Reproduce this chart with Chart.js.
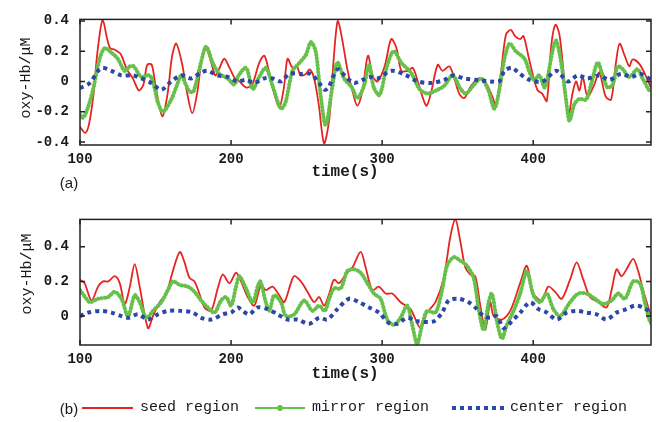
<!DOCTYPE html>
<html>
<head>
<meta charset="utf-8">
<script src="https://cdn.jsdelivr.net/npm/chart.js@4"></script>
<style>
  html,body{margin:0;padding:0;background:#fff;}
  #wrap{position:relative;width:656px;height:422px;overflow:hidden;background:#fff;}
  canvas{position:absolute;left:0;}
  .t{position:absolute;white-space:nowrap;color:#1a1a1a;font-family:'Liberation Mono','DejaVu Sans Mono',monospace;}
  .c{transform:translate(-50%,-50%);}
  .r{transform:translate(-50%,-50%) rotate(-90deg);}
</style>
</head>
<body>
<div id="wrap">
  <canvas id="top" width="656" height="200" style="top:0"></canvas>
  <canvas id="bot" width="656" height="222" style="top:200px"></canvas>
  <div class="t r" style="left:26px;top:78px;font-size:15px;">oxy-Hb/μM</div>
  <div class="t r" style="left:27px;top:274px;font-size:15px;">oxy-Hb/μM</div>
  <div class="t c" style="left:345px;top:172px;font-size:16px;font-weight:bold;">time(s)</div>
  <div class="t c" style="left:345px;top:374px;font-size:16px;font-weight:bold;">time(s)</div>
  <div class="t c" style="left:69px;top:182px;font-size:15px;font-family:'Liberation Sans',Arial,sans-serif;">(a)</div>
  <div class="t c" style="left:69px;top:408px;font-size:15px;font-family:'Liberation Sans',Arial,sans-serif;">(b)</div>
  <div style="position:absolute;left:82px;top:407px;width:51px;height:2px;background:#e52521;"></div>
  <div class="t" style="left:140px;top:399px;font-size:15px;">seed region</div>
  <div style="position:absolute;left:255px;top:407px;width:50px;height:2px;background:#66c04a;"></div>
  <div style="position:absolute;left:277px;top:405px;width:6px;height:6px;border-radius:3px;background:#66c04a;"></div>
  <div class="t" style="left:312px;top:399px;font-size:15px;">mirror region</div>
  <div style="position:absolute;left:452px;top:406px;width:52px;height:4px;background:repeating-linear-gradient(90deg,#2d47a8 0 4px,transparent 4px 8px);"></div>
  <div class="t" style="left:510px;top:399px;font-size:15px;">center region</div>
</div>
<script>
// ---------- data (time in s, oxy-Hb in μM) ----------
const xTicks = [100, 200, 300, 400];
const topYTicks = [-0.4, -0.2, 0, 0.2, 0.4];
const botYTicks = [0, 0.2, 0.4];
const seriesNames = ['seed region', 'mirror region', 'center region'];

// (a) seed region
const topSeedT = [100,103.5,106,109,111.5,115,118,120,123,127,131,135,139,142,144.5,147.5,150,154.5,158,161,163.7,167.5,171,174.3,177.5,181,183.5,187,189.5,192,195.5,199,202,205.5,210,214,218.7,222,225,228.6,232,235,237.4,240.7,243.6,246,249.5,252,255,258,261.6,265,267,269.3,270.8,273.7,277,280.3,283.6,287,290.6,294,297,301.7,306,309.5,312.7,317,320.3,323.6,327,329.5,332.5,336.8,340,344.5,347.8,351,354.4,358.8,364.3,368.7,373,375.3,378.7,382,385.3,388,391.4,393.6,397,400.4,403,406,409,412,414.7,417.4,420.7,423.3,426,428.4,430.6,432.8,436,440.5,443.8,448,451.6,454.8,457.2,460.6,463.6,465.8,470,473.5,477,478];
const topSeedV = [-0.30,-0.34,-0.28,-0.08,0.19,0.41,0.28,0.22,0.21,0.18,0.08,0.02,-0.06,-0.02,0.11,0.11,-0.03,-0.23,-0.08,0.17,0.25,0.12,-0.08,-0.21,-0.08,0.17,0.22,0.12,0.04,0.08,0.15,0.09,0.03,0.0,-0.04,-0.02,0.125,0.17,0.07,-0.08,-0.17,-0.04,0.15,0.09,0.10,0.04,0.05,0.08,0.02,-0.15,-0.41,-0.25,0.02,0.31,0.40,0.27,0.08,-0.06,-0.16,-0.06,0.17,0.03,0.0,0.10,0.28,0.22,0.07,0.07,0.09,0.0,-0.11,-0.16,-0.07,0.11,0.07,0.10,0.02,-0.08,-0.11,-0.03,0.02,-0.01,-0.10,-0.16,0.06,0.31,0.34,0.30,0.28,0.30,0.16,0.02,-0.06,-0.08,-0.13,0.24,0.375,0.31,0.0,-0.23,-0.08,0.0,-0.06,0.03,-0.10,-0.02,0.06,-0.10,-0.12,0.125,0.25,0.17,0.10,0.145,0.12,0.06,-0.02,-0.04];

// (a) mirror region
const topMirrorT = [100,102,105,108.7,113,116.4,120.8,125,129.6,133,135.5,140.6,146,149,151.6,155,160.4,164,167,170,172.5,175,180.2,183.5,188,192.3,197.8,202,205,210,214.3,218.7,223,227.5,233,236,240.7,245,249.5,252.8,256,259.4,262.7,267,270.4,274.8,280,283.6,288,291.3,294.5,298.3,302.7,307.5,313,319,324.7,330,335.6,341,346.7,352,355.5,361,365.5,370,374.3,377.5,381,384.4,388.5,394.3,397.6,400.6,404,407.5,409.6,413,415.2,418.5,421.8,424,427.3,430.6,435,438.3,442.7,446,449.3,452.6,456,459.4,463.6,469,472.4,476.8,478];
const topMirrorV = [-0.22,-0.24,-0.18,-0.05,0.15,0.22,0.19,0.15,0.07,0.10,0.10,0.03,0.04,-0.03,-0.14,-0.20,-0.12,-0.03,0.04,-0.02,-0.065,-0.07,0.13,0.23,0.12,0.05,0.02,-0.02,0.04,0.09,-0.05,0.03,0.09,-0.03,-0.18,-0.14,0.07,0.12,0.175,0.26,0.20,-0.10,-0.29,-0.04,0.125,0.02,-0.04,-0.11,-0.03,0.11,-0.04,-0.09,0.08,0.20,0.12,0.06,-0.05,-0.08,-0.06,-0.03,0.04,-0.05,-0.08,-0.02,0.02,-0.05,-0.18,-0.06,0.15,0.25,0.20,0.15,0.06,0.01,0.04,-0.04,0.03,0.21,0.27,0.125,-0.125,-0.26,-0.15,-0.115,-0.12,-0.02,0.125,0.04,-0.04,-0.02,0.10,0.08,0.03,0.08,0.02,-0.06,-0.07];

// (a) center region
const topCenterT = [100,106.5,112,115,120.8,127.4,135,140.6,147.2,153.8,160.4,167,173.6,180.2,184.6,191,197.8,204.4,210,215.4,222,227.5,233,238.5,246.2,252.8,258.3,262,264.5,270.4,276,281.4,287,292,297,306,315,323.6,332.5,341.2,346.7,354.4,363,372,377.5,381,386,390,397.6,406.4,415.2,422.9,429.5,436,443.8,450.4,458,464.7,471.3,478];
const topCenterV = [-0.045,-0.01,0.07,0.09,0.07,0.04,0.04,0.02,-0.01,-0.055,0.0,0.04,0.02,0.06,0.07,0.04,0.03,0.0,0.01,-0.01,0.02,0.02,0.0,0.05,0.05,0.05,-0.01,-0.055,-0.04,0.08,0.03,-0.01,0.01,0.03,0.02,0.07,0.045,0.0,-0.01,0.01,0.04,0.02,0.01,0.0,0.0,0.07,0.09,0.06,0.01,0.0,0.07,0.0,0.04,0.02,0.04,0.01,0.05,0.03,0.05,0.01];

// (b) seed region
const botSeedT = [100,103,107.6,112,115.3,118.6,123,126.3,129.6,133,136.2,139.5,145,148.3,152.7,157.1,161.5,166,169.2,172.5,175.8,179,182.4,186.8,191.2,194.5,198.9,203.3,206.6,211,215.4,219.8,223,227.5,231.9,235.2,239.6,241.8,246.2,250.6,255,258.3,261.6,265,268.2,271.5,275.9,280.3,285.8,289.1,293.5,297.9,302.3,306.7,312.2,318.8,325.4,329.8,335.3,340.8,345.2,348.5,351.8,355.1,358.4,361.7,365,368.3,371.6,373.8,379.3,384.8,391.4,395.8,400.2,405.7,410,414.5,418.9,424.4,428.8,433.2,437.6,443.1,448.6,451.9,455.2,458.5,461.8,466.2,469.5,472.8,477.2,478];
const botSeedV = [0.21,0.19,0.09,0.17,0.20,0.20,0.23,0.19,0.07,0.17,0.30,0.17,-0.07,0.0,0.08,0.13,0.26,0.37,0.31,0.22,0.20,0.13,0.05,0.03,0.16,0.24,0.19,0.25,0.20,0.11,0.06,0.18,0.15,0.17,0.12,0.08,0.19,0.23,0.20,0.14,0.08,0.11,0.06,0.13,0.21,0.19,0.24,0.28,0.37,0.28,0.15,0.17,0.13,0.13,0.08,0.04,-0.07,0.02,0.08,0.22,0.46,0.56,0.43,0.28,0.24,0.23,0.06,-0.08,0.08,0.0,-0.02,0.03,0.19,0.29,0.13,0.09,0.17,0.14,0.10,0.21,0.31,0.21,0.11,0.08,0.05,0.15,0.27,0.23,0.27,0.33,0.26,0.15,0.02,0.0];

// (b) mirror region
const botMirrorT = [100,104.3,106.5,112,118.6,123,127.4,131.8,136.2,139.5,143.9,148.3,153.8,158.2,161.5,166,171.4,175.8,180.2,184.6,189,193.4,196.7,200,203.3,205.5,209.9,214.3,217.6,219.4,223,225.3,228.6,233,236.3,241.8,248.4,253.9,258.3,262,265,268.2,272.6,277,281.4,285.8,290.2,294.6,299,303.4,307.8,312.2,316.6,319.9,323.2,326.5,329.8,335.3,339.7,343,347.4,351.8,356.2,360.6,363.9,367.2,370.5,372.7,376,379.3,382.6,387,391.4,395.8,400.2,404.6,409,413.4,417.8,424.4,429.9,435.4,440.9,446.4,451.9,456.3,460.7,466.2,470.6,473.9,477.2,478];
const botMirrorV = [0.15,0.10,0.08,0.10,0.11,0.14,0.10,0.0,0.12,0.08,-0.01,0.03,0.08,0.15,0.20,0.18,0.17,0.14,0.09,0.05,0.02,0.09,0.11,0.06,0.17,0.23,0.16,0.08,0.17,0.20,0.08,0.03,0.12,0.08,0.0,0.01,0.09,0.03,0.06,0.03,0.10,0.16,0.16,0.26,0.27,0.25,0.19,0.13,0.10,-0.02,-0.05,-0.01,0.06,-0.05,-0.16,-0.05,0.03,0.02,0.15,0.29,0.34,0.32,0.29,0.22,0.04,-0.08,0.08,0.13,-0.03,-0.13,-0.05,0.03,0.13,0.26,0.12,0.08,0.13,0.04,0.0,0.08,0.13,0.13,0.10,0.07,0.09,0.13,0.10,0.20,0.19,0.08,-0.03,-0.04];

// (b) center region
const botCenterT = [100,105.4,114.2,120.8,127.4,131.8,138.4,145,151.6,158.2,167,174.7,180.2,186.8,194.5,200,204.4,207.7,212.1,217.6,224.2,230.8,237.4,244,251.7,258.3,263.8,270.4,278.1,284.7,291.3,297.9,304.5,310,316.6,323.2,334.2,339.7,344.1,350.7,357.3,362.8,367.2,371.6,376,380.4,385.9,391.4,398,403.5,409,415.6,422.2,428.8,435.4,442,448.6,455.2,461.8,467.3,472.8,478];
const botCenterV = [0.0,0.02,0.03,0.02,0.0,-0.01,0.01,-0.02,0.01,0.03,0.03,0.02,-0.01,-0.02,0.01,0.02,0.05,0.03,0.01,0.05,0.04,0.01,-0.02,-0.02,-0.045,-0.01,-0.02,0.04,0.10,0.08,0.05,0.02,-0.04,-0.045,-0.01,-0.03,-0.03,0.02,0.09,0.10,0.08,0.04,0.0,-0.01,0.0,-0.07,-0.03,0.02,0.08,0.04,0.02,-0.02,0.02,0.03,0.02,0.01,-0.02,0.02,0.04,0.06,0.05,0.02];

// ---------- chart building ----------
const RED = '#e52521', GREEN = '#66c04a', BLUE = '#2d47a8';
const pts = (t, v) => t.map((x, i) => ({x, y: v[i]}));

function datasets(seedT, seedV, mirT, mirV, cenT, cenV) {
  return [
    {label: seriesNames[2], data: pts(cenT, cenV), borderColor: BLUE, borderWidth: 4,
     borderDash: [4, 4], borderCapStyle: 'butt', pointRadius: 0, tension: 0.3},
    {label: seriesNames[1], data: pts(mirT, mirV), borderColor: GREEN, borderWidth: 4,
     borderDash: [0.5, 3], borderCapStyle: 'round', pointRadius: 0, tension: 0.3},
    {label: seriesNames[0], data: pts(seedT, seedV), borderColor: RED, borderWidth: 1.8,
     pointRadius: 0, tension: 0.3}
  ];
}

const framePlugin = {
  id: 'frame',
  afterDatasetsDraw(chart) {
    const {ctx, chartArea: {left, right, top, bottom}, scales: {x, y}} = chart;
    ctx.save();
    ctx.strokeStyle = '#222';
    ctx.lineWidth = 1.5;
    ctx.strokeRect(left, top, right - left, bottom - top);
    ctx.beginPath();
    x.ticks.forEach(t => {
      const p = x.getPixelForValue(t.value);
      ctx.moveTo(p, bottom); ctx.lineTo(p, bottom - 5);
      ctx.moveTo(p, top); ctx.lineTo(p, top + 5);
    });
    y.ticks.forEach(t => {
      const p = y.getPixelForValue(t.value);
      ctx.moveTo(left, p); ctx.lineTo(left + 5, p);
      ctx.moveTo(right, p); ctx.lineTo(right - 5, p);
    });
    ctx.stroke();
    ctx.restore();
  }
};

const tickFont = {family: "'Liberation Mono','DejaVu Sans Mono',monospace", size: 14, weight: 'bold'};

function makeChart(id, ds, yMin, yMax, yTicks, xHeight, padTop) {
  return new Chart(document.getElementById(id), {
    type: 'line',
    data: {datasets: ds},
    options: {
      responsive: false,
      animation: false,
      devicePixelRatio: 1,
      layout: {padding: {left: 0, right: 5, top: padTop, bottom: 0}},
      plugins: {legend: {display: false}, tooltip: {enabled: false}},
      scales: {
        x: {
          type: 'linear', min: 100, max: 478,
          afterBuildTicks: s => { s.ticks = xTicks.map(v => ({value: v})); },
          afterFit: s => { s.height = xHeight; },
          grid: {display: false, drawTicks: false},
          border: {display: false},
          ticks: {font: tickFont, color: '#1a1a1a', padding: 6, maxRotation: 0,
                  callback: v => String(v)}
        },
        y: {
          type: 'linear', min: yMin, max: yMax,
          afterBuildTicks: s => { s.ticks = yTicks.map(v => ({value: v})); },
          afterFit: s => { s.width = 80; },
          grid: {display: false, drawTicks: false},
          border: {display: false},
          ticks: {font: tickFont, color: '#1a1a1a', padding: 11,
                  callback: v => (Math.abs(v) < 1e-9 ? '0' : v.toFixed(1))}
        }
      }
    },
    plugins: [framePlugin]
  });
}

makeChart('top', datasets(topSeedT, topSeedV, topMirrorT, topMirrorV, topCenterT, topCenterV),
          -0.42, 0.41, topYTicks, 55, 13);
makeChart('bot', datasets(botSeedT, botSeedV, botMirrorT, botMirrorV, botCenterT, botCenterV),
          -0.167, 0.558, botYTicks, 77, 12);
</script>
</body>
</html>
